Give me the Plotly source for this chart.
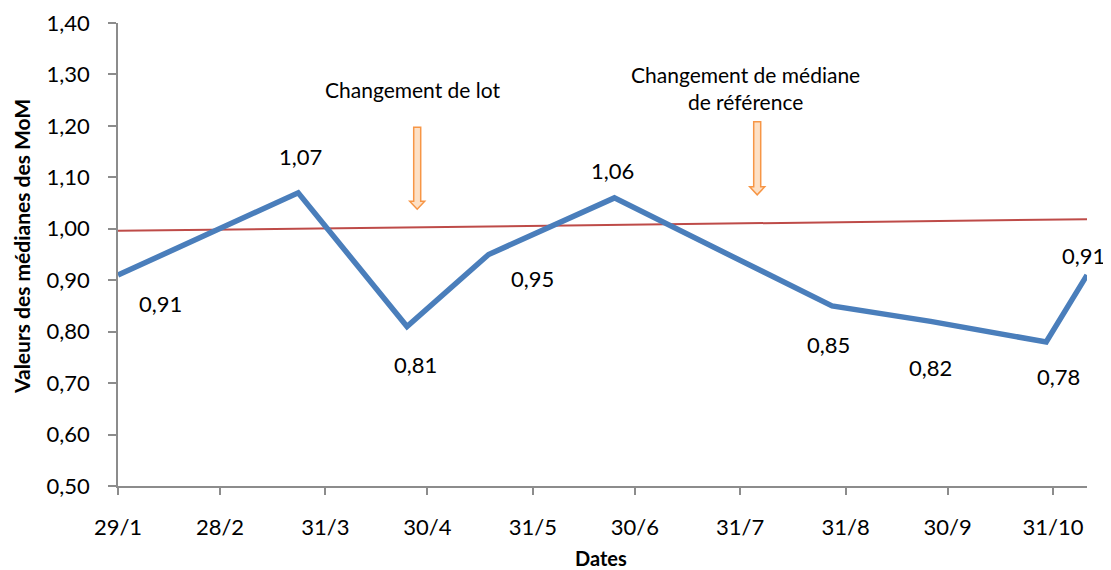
import plotly.graph_objects as go

# données
dates = ["2013-01-29", "2013-03-23", "2013-04-24", "2013-05-18", "2013-06-24",
         "2013-08-27", "2013-09-25", "2013-10-29", "2013-11-10"]
medianes = [0.91, 1.07, 0.81, 0.95, 1.06, 0.85, 0.82, 0.78, 0.91]

ref_dates = ["2013-01-29", "2013-11-10"]
ref_valeurs = [0.996, 1.0185]

tick_dates = ["2013-01-29", "2013-02-28", "2013-03-31", "2013-04-30", "2013-05-31",
              "2013-06-30", "2013-07-31", "2013-08-31", "2013-09-30", "2013-10-31"]
tick_labels = ["29/1", "28/2", "31/3", "30/4", "31/5", "30/6", "31/7", "31/8", "30/9", "31/10"]

# décalage des étiquettes (px) par point
lab_dx = [42, 2, 8, 44, -2, -4, 0, 12, -4]
lab_dy = [-28, 36, -38, -24, 27, -39, -46, -35, 20]

FONT = "Lato"
TAILLE = 22

# la page html a une marge de 8 px autour du graphique
OFF = 8
W, H = 1111 - OFF, 570 - OFF
L, R, T, B = 118 - OFF, 24, 23 - OFF, 84
pw, ph = W - L - R, H - T - B

fig = go.Figure()
fig.add_trace(go.Scatter(x=ref_dates, y=ref_valeurs, mode="lines",
                         line=dict(color="#BE4B48", width=2), showlegend=False,
                         hoverinfo="skip"))
fig.add_trace(go.Scatter(x=dates, y=medianes, mode="lines",
                         line=dict(color="#4A7EBB", width=5.5), showlegend=False))

for d, v, dx, dy in zip(dates, medianes, lab_dx, lab_dy):
    fig.add_annotation(x=d, y=v, text=f"{v:.2f}".replace(".", ","),
                       showarrow=False, xshift=dx, yshift=dy,
                       font=dict(family=FONT, size=TAILLE, color="black"))

# flèches orange creuses (pixels, pointe = ancre)
def fleche(xa, ya, longueur):
    w, hw, hl = 3.5, 7.5, 8
    path = (f"M {-w},{longueur} L {w},{longueur} L {w},{hl} L {hw},{hl} L 0,0 "
            f"L {-hw},{hl} L {-w},{hl} Z")
    fig.add_shape(type="path", path=path, xref="x", yref="y",
                  xsizemode="pixel", ysizemode="pixel", xanchor=xa, yanchor=ya,
                  line=dict(color="#F79646", width=1.5), fillcolor="#FDE0C5")

fleche("2013-04-27", 1.038, 82)
fleche("2013-08-05", 1.066, 73)

# textes placés en pixels écran
def texte(px, py, txt, size, angle=0):
    fig.add_annotation(x=(px - OFF - L) / pw, y=(H - B - (py - OFF)) / ph,
                       xref="paper", yref="paper", xanchor="center", yanchor="middle",
                       text=txt, textangle=angle, showarrow=False,
                       font=dict(family=FONT, size=size, color="black"))

texte(412, 90, "Changement de lot", 21)
texte(745, 88, "Changement de médiane<br>de référence", 21)
texte(601, 558, "<b>Dates</b>", 20)
texte(22, 247, "<b>Valeurs des médianes des MoM</b>", 21, -90)

fig.update_layout(
    width=W, height=H,
    margin=dict(l=L, r=R, t=T, b=B, autoexpand=False),
    plot_bgcolor="white", paper_bgcolor="white",
    separators=", ",
    font=dict(family=FONT, size=TAILLE, color="black"),
    xaxis=dict(type="date", range=["2013-01-29", "2013-11-10"],
               tickvals=tick_dates, ticktext=tick_labels,
               showgrid=False, zeroline=False, automargin=False,
               showline=True, linecolor="#8C8C8C", linewidth=1.5,
               ticks="outside", ticklen=7, tickcolor="#8C8C8C", tickwidth=1.5,
               tickfont=dict(family=FONT, size=TAILLE), ticklabelstandoff=14),
    yaxis=dict(range=[0.5, 1.4], dtick=0.1, tick0=0.5, tickformat=".2f",
               showgrid=False, zeroline=False, automargin=False,
               showline=True, linecolor="#8C8C8C", linewidth=1.5,
               ticks="outside", ticklen=8, tickcolor="#8C8C8C", tickwidth=1.5,
               tickfont=dict(family=FONT, size=TAILLE), ticklabelstandoff=14),
)

fig.write_html("out.html")
